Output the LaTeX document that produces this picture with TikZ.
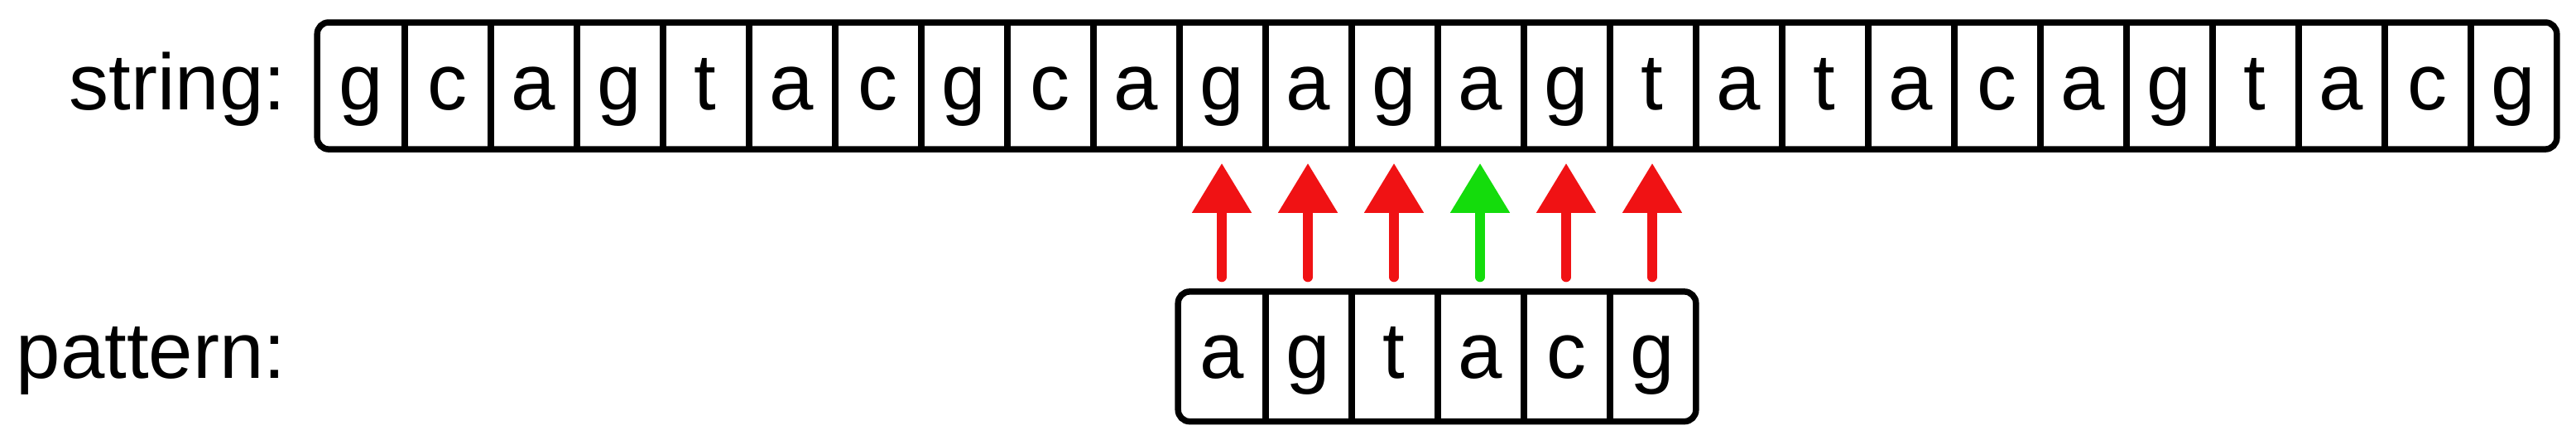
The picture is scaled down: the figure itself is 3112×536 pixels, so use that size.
\documentclass[tikz,border=0pt]{standalone}
\usepackage{fontspec}
\setmainfont{Liberation Sans}
\usetikzlibrary{arrows.meta}
\definecolor{mred}{RGB}{240,18,20}
\definecolor{mgreen}{RGB}{20,220,12}
\tikzset{
  x=0.25pt, y=-0.25pt,
  txt/.style={font=\fontsize{24}{28}\selectfont, inner sep=0pt},
  scell/.style={txt, minimum width=26pt, minimum height=37.875pt, text height=18.575pt, text depth=4pt},
  pcell/.style={txt, minimum width=26pt, minimum height=38.775pt, text height=16.875pt, text depth=4pt},
  frame/.style={draw=black, line width=1.875pt, rounded corners=3.5pt},
  divider/.style={draw=black, line width=1.875pt},
  cmparrow/.style={line width=3pt, line cap=round, -{Triangle[length=15pt, width=17.25pt]}, shorten <=4.4pt, shorten >=4.2pt},
}
\begin{document}
\begin{tikzpicture}
\useasboundingbox (0,0) rectangle (3112,536);
% labels
\node[txt, anchor=base east] (lstr) at (346,132.7) {string:};
\node[txt, anchor=base east] (lpat) at (346,456) {pattern:};
% string cells
\foreach \ch [count=\i from 0] in {g,c,a,g,t,a,c,g,c,a,g,a,g,a,g,t,a,t,a,c,a,g,t,a,c,g} {
  \node[scell] (s\i) at ({436+104*\i},103.55) {\ch};
}
% pattern cells
\foreach \ch [count=\j from 0] in {a,g,t,a,c,g} {
  \node[pcell] (p\j) at ({1476+104*\j},430.25) {\ch};
}
% frames
\draw[frame] (s0.north west) rectangle (s25.south east);
\foreach \i in {0,...,24} { \draw[divider] (s\i.north east) -- (s\i.south east); }
\draw[frame] (p0.north west) rectangle (p5.south east);
\foreach \j in {0,...,4} { \draw[divider] (p\j.north east) -- (p\j.south east); }
% comparison arrows
\draw[cmparrow, mred] (p0.north) -- (s10.south);
\draw[cmparrow, mred] (p1.north) -- (s11.south);
\draw[cmparrow, mred] (p2.north) -- (s12.south);
\draw[cmparrow, mgreen] (p3.north) -- (s13.south);
\draw[cmparrow, mred] (p4.north) -- (s14.south);
\draw[cmparrow, mred] (p5.north) -- (s15.south);
\end{tikzpicture}
\end{document}
